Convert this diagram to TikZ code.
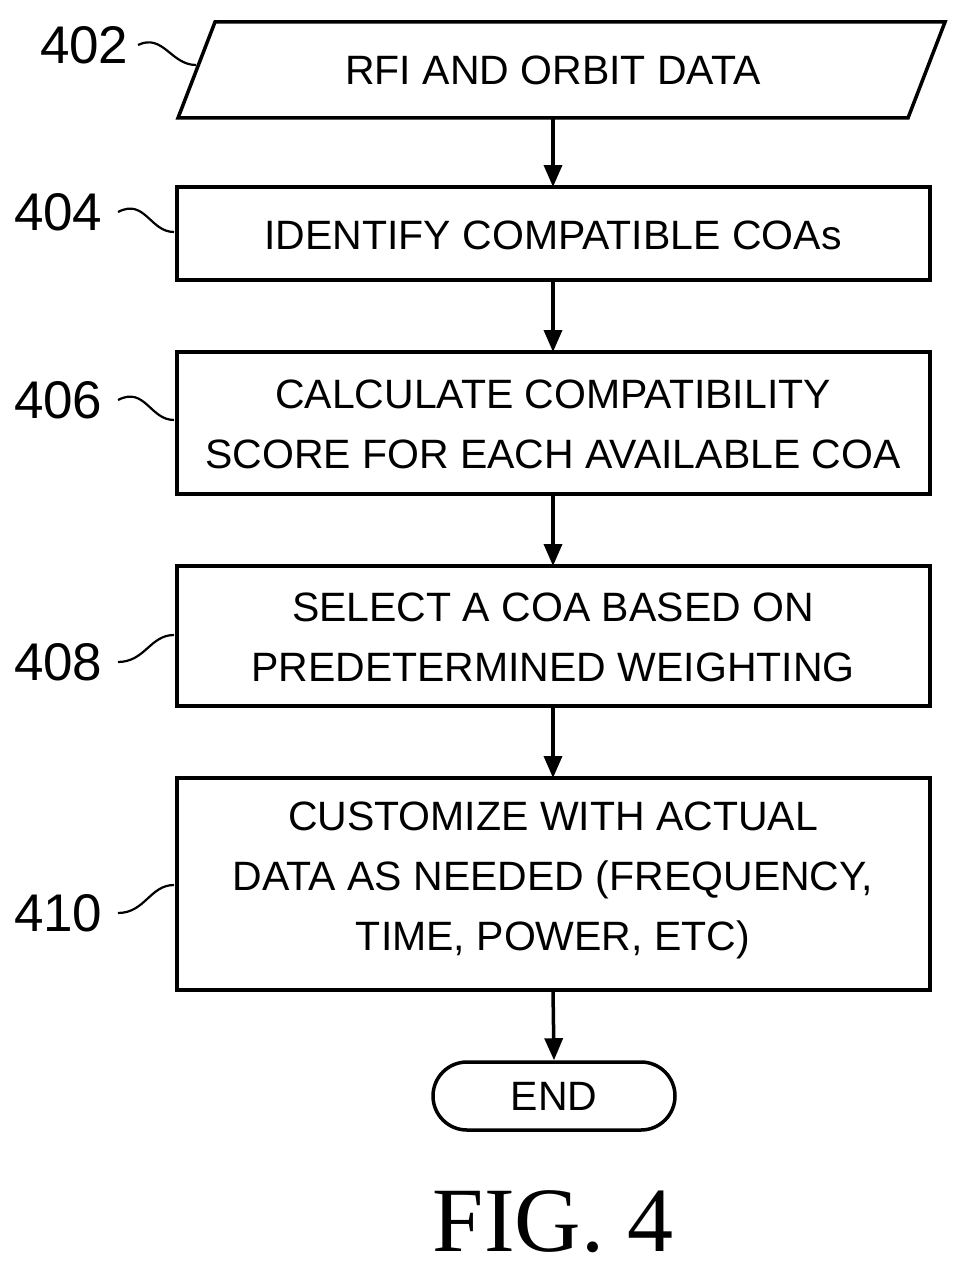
\documentclass[tikz,border=0pt]{standalone}
\usepackage{fontspec}
\setmainfont{Liberation Sans}
\newfontfamily\figfont{Liberation Serif}
\usetikzlibrary{arrows.meta}
\begin{document}
\begin{tikzpicture}[x=1pt,y=-1pt,
  txt/.style={font=\fontsize{41}{60}\selectfont,align=center},
  lab/.style={font=\fontsize{53}{53}\selectfont},
  ln/.style={line width=3.5pt},
  arr/.style={ln,-{Triangle[length=22pt,width=18pt]}},
  lead/.style={line width=2.2pt}]
\useasboundingbox (0,0) rectangle (957,1271);
\draw[ln] (215,22) -- (945,22) -- (908,118) -- (178,118) -- cycle;
\node[txt] (n402) at (553,70) {RFI AND ORBIT DATA};
\coordinate (p402) at (196,65);
\draw[ln] (177,187) rectangle (930,280);
\node[txt] (n404) at (553,235) {IDENTIFY COMPATIBLE COAs};
\draw[ln] (177,352) rectangle (930,494);
\node[txt] (n406) at (553,424) {CALCULATE COMPATIBILITY\\SCORE FOR EACH AVAILABLE COA};
\draw[ln] (177,566) rectangle (930,706);
\node[txt] (n408) at (553,637) {SELECT A COA BASED ON\\PREDETERMINED WEIGHTING};
\draw[ln] (177,778) rectangle (930,990);
\node[txt] (n410) at (553,880) {CUSTOMIZE WITH ACTUAL\\DATA AS NEEDED (FREQUENCY,\\TIME, POWER, ETC)};
\node[ln,draw,rounded corners=34pt,minimum width=242pt,minimum height=68pt,font=\fontsize{41}{44}\selectfont] (end) at (554,1096) {END};
\draw[arr] (553,118) -- (553,187);
\draw[arr] (553,280) -- (553,352);
\draw[arr] (553,494) -- (553,566);
\draw[arr] (553,706) -- (553,778);
\draw[arr] (553,990) -- (end.north);
\node[lab,anchor=east] (l402) at (132,45) {402};
\node[lab,anchor=east] (l404) at (106,212) {404};
\node[lab,anchor=east] (l406) at (106,400) {406};
\node[lab,anchor=east] (l408) at (106,662) {408};
\node[lab,anchor=east] (l410) at (106,913) {410};
\draw[lead] (l402.east) ++(6,0) .. controls +(25,-12) and +(-25,0) .. (p402);
\draw[lead] (118,212) .. controls (145,198) and (150,232) .. (174,232);
\draw[lead] (118,400) .. controls (145,386) and (150,420) .. (174,420);
\draw[lead] (118,662) .. controls (145,662) and (150,635) .. (174,635);
\draw[lead] (118,913) .. controls (145,913) and (150,885) .. (174,885);
\node[font=\figfont\fontsize{92}{94}\selectfont] (fig) at (553,1222) {FIG. 4};
\end{tikzpicture}
\end{document}
